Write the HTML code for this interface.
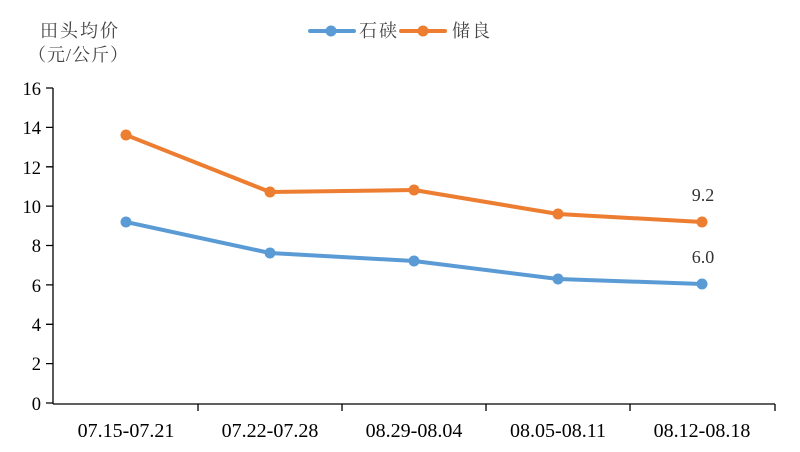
<!DOCTYPE html>
<html><head><meta charset="utf-8"><style>body{margin:0;background:#fff}svg{display:block}</style></head><body>
<svg width="800" height="452" xmlns="http://www.w3.org/2000/svg">
<g font-family="'Liberation Serif','Noto Serif CJK SC',serif" fill="#444" font-size="18">
<text x="40" y="37" letter-spacing="2">田头均价</text>
<text x="28" y="61" letter-spacing="1">（元/公斤）</text>
<text x="359" y="37" letter-spacing="2">石硖</text>
<text x="452" y="37" letter-spacing="2">储良</text>
</g>
<line x1="310" y1="31" x2="354" y2="31" stroke="#5b9bd5" stroke-width="4" stroke-linecap="round"/>
<circle cx="331" cy="31" r="5.5" fill="#5b9bd5"/>
<line x1="401" y1="31" x2="445" y2="31" stroke="#ed7d31" stroke-width="4" stroke-linecap="round"/>
<circle cx="423" cy="31" r="5.5" fill="#ed7d31"/>
<g stroke="#000" stroke-width="1.3" fill="none">
<line x1="53" y1="88" x2="53" y2="404"/>
<line x1="53" y1="404" x2="775" y2="404"/>
<path d="M46 88H53M46 127.4H53M46 166.8H53M46 206.1H53M46 245.5H53M46 284.9H53M46 324.3H53M46 363.6H53M46 403H53"/>
<path d="M198 404V411M342 404V411M486 404V411M630 404V411M775 404V411"/>
</g>
<g font-family="'Liberation Serif',serif" font-size="18.5" fill="#000" text-anchor="end">
<text x="41" y="95">16</text><text x="41" y="134">14</text><text x="41" y="174">12</text><text x="41" y="213">10</text><text x="41" y="252">8</text><text x="41" y="292">6</text><text x="41" y="331">4</text><text x="41" y="370">2</text><text x="41" y="410">0</text>
</g>
<g font-family="'Liberation Serif',serif" font-size="20" fill="#000" text-anchor="middle">
<text x="126" y="437">07.15-07.21</text><text x="270" y="437">07.22-07.28</text><text x="414" y="437">08.29-08.04</text><text x="558" y="437">08.05-08.11</text><text x="702" y="437">08.12-08.18</text>
</g>
<g font-family="'Liberation Serif',serif" font-size="18" fill="#333" text-anchor="middle">
<text x="703" y="201">9.2</text><text x="703" y="263">6.0</text>
</g>
<polyline points="126,135 270,192 414,190 558,214 702,222" fill="none" stroke="#ed7d31" stroke-width="4" stroke-linejoin="round"/>
<polyline points="126,222 270,253 414,261 558,279 702,284" fill="none" stroke="#5b9bd5" stroke-width="4" stroke-linejoin="round"/>
<g fill="#ed7d31"><circle cx="126" cy="135" r="5.5"/><circle cx="270" cy="192" r="5.5"/><circle cx="414" cy="190" r="5.5"/><circle cx="558" cy="214" r="5.5"/><circle cx="702" cy="222" r="5.5"/></g>
<g fill="#5b9bd5"><circle cx="126" cy="222" r="5.5"/><circle cx="270" cy="253" r="5.5"/><circle cx="414" cy="261" r="5.5"/><circle cx="558" cy="279" r="5.5"/><circle cx="702" cy="284" r="5.5"/></g>
</svg>
</body></html>
